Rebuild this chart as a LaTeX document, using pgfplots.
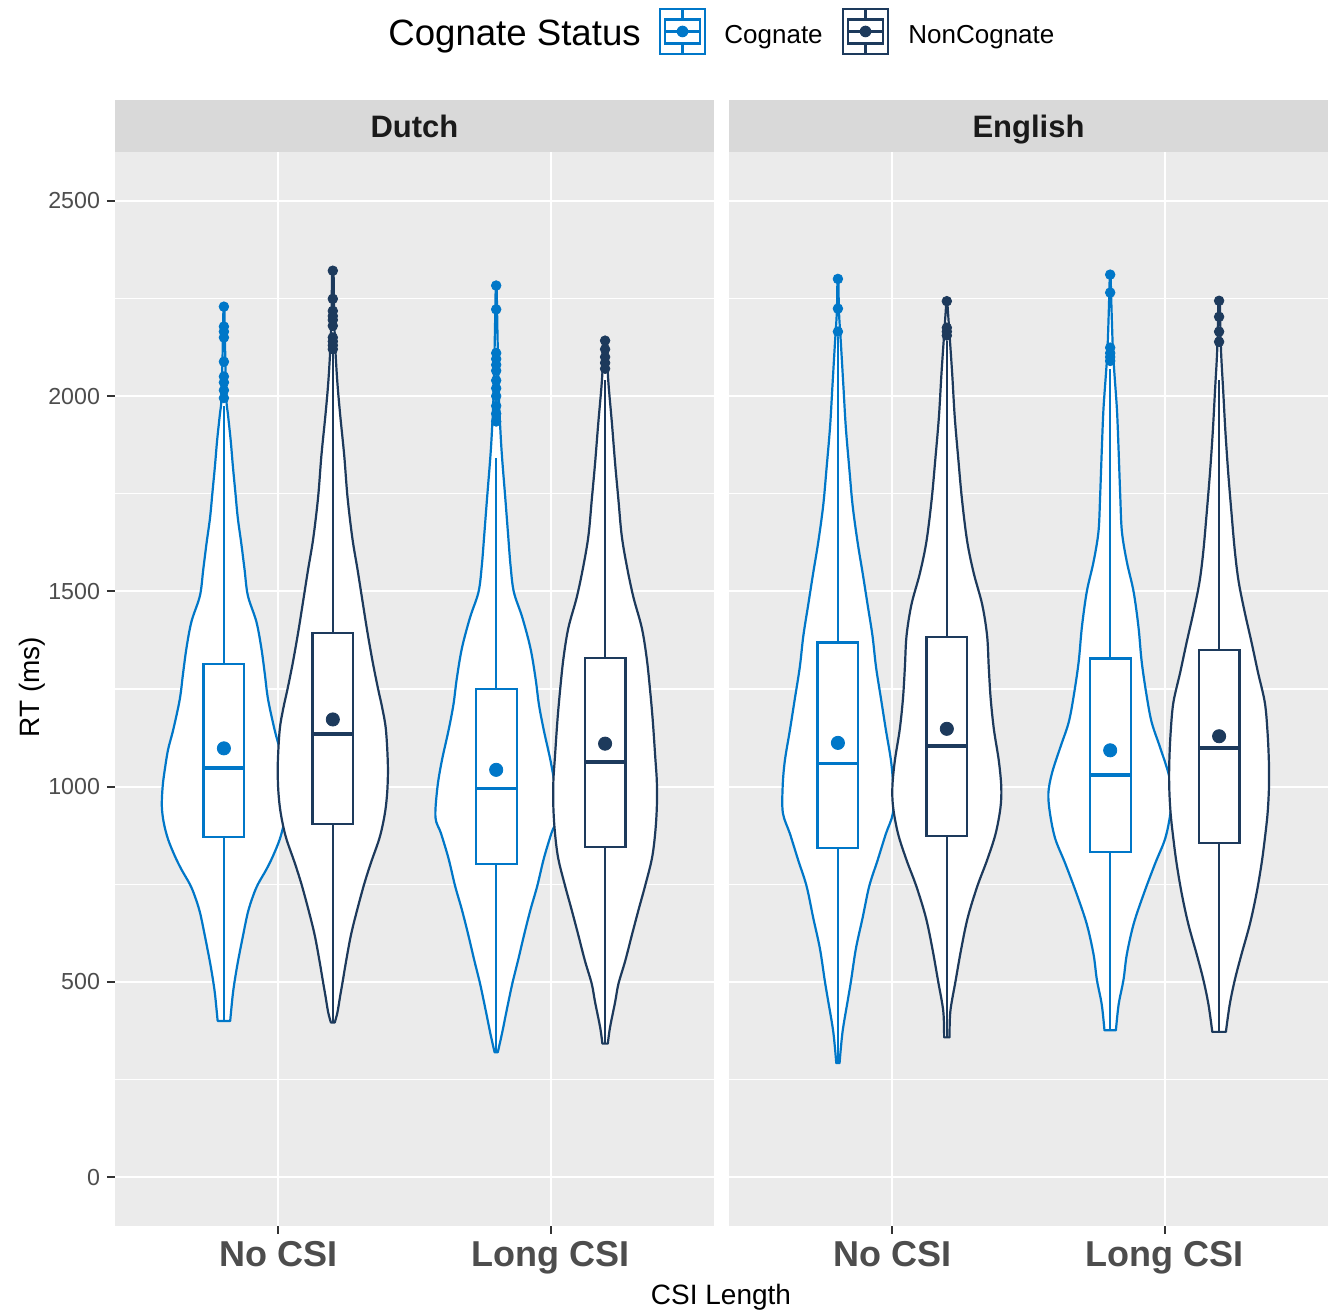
\documentclass[border=0pt]{standalone}
\usepackage{pgfplots}
\pgfplotsset{compat=1.18}
\usepackage{pgfplotstable}
\usepackage{fontspec}
\setmainfont{Liberation Sans}
\definecolor{cog}{RGB}{0,119,200}
\definecolor{ncog}{RGB}{29,58,92}
\definecolor{panelbg}{HTML}{EBEBEB}
\definecolor{stripbg}{HTML}{D9D9D9}
\definecolor{tickcol}{HTML}{4D4D4D}
\definecolor{tickline}{HTML}{333333}
\definecolor{striptext}{HTML}{1A1A1A}

% violin outlines: y = RT (ms), w = half width (axis units)
\pgfplotstableread{
y w
400 0.023
464 0.032
500 0.039
550 0.051
618 0.070
678 0.088
720 0.107
750 0.125
788 0.156
822 0.180
865 0.205
908 0.221
950 0.228
1000 0.225
1044 0.217
1095 0.205
1146 0.186
1224 0.162
1290 0.150
1357 0.137
1423 0.119
1489 0.088
1555 0.076
1622 0.064
1688 0.051
1754 0.042
1820 0.033
1886 0.025
1952 0.015
1992 0.009
2100 0.005
2214 0.002
2229 0.001
}\dcno
\pgfplotstableread{
y w
396 0.007
422 0.017
464 0.027
500 0.036
550 0.048
618 0.066
678 0.087
750 0.115
805 0.140
865 0.170
908 0.185
950 0.195
1000 0.201
1061 0.202
1146 0.195
1200 0.182
1251 0.166
1317 0.147
1396 0.127
1475 0.109
1555 0.091
1635 0.072
1741 0.054
1847 0.042
1952 0.027
2032 0.017
2111 0.010
2200 0.005
2306 0.003
2321 0.002
}\dnno
\pgfplotstableread{
y w
320 0.006
370 0.022
422 0.037
495 0.059
554 0.080
619 0.102
685 0.126
746 0.151
816 0.175
881 0.203
921 0.223
997 0.216
1065 0.200
1144 0.175
1210 0.157
1275 0.145
1354 0.126
1433 0.096
1498 0.065
1564 0.053
1643 0.044
1734 0.034
1839 0.022
1905 0.016
1997 0.010
2150 0.005
2268 0.002
2283 0.001
}\dclong
\pgfplotstableread{
y w
342 0.010
383 0.018
449 0.037
495 0.049
554 0.074
619 0.098
685 0.123
746 0.147
816 0.172
881 0.184
947 0.190
1013 0.190
1078 0.184
1170 0.175
1249 0.165
1328 0.153
1406 0.135
1485 0.104
1564 0.080
1643 0.061
1734 0.049
1826 0.037
1931 0.025
2036 0.012
2115 0.006
2127 0.003
2142 0.002
}\dnlong
\pgfplotstableread{
y w
292 0.006
372 0.017
452 0.036
502 0.048
585 0.066
665 0.091
745 0.115
812 0.146
879 0.176
932 0.202
999 0.203
1066 0.195
1146 0.176
1226 0.158
1306 0.140
1386 0.127
1466 0.109
1546 0.091
1627 0.072
1720 0.054
1813 0.042
1920 0.029
2027 0.020
2134 0.011
2214 0.004
2285 0.002
2300 0.001
}\ecno
\pgfplotstableread{
y w
358 0.010
425 0.013
502 0.032
585 0.053
665 0.077
745 0.112
812 0.148
879 0.179
946 0.197
999 0.200
1066 0.191
1146 0.173
1226 0.161
1306 0.154
1386 0.148
1466 0.130
1546 0.099
1627 0.075
1733 0.056
1840 0.042
1947 0.029
2054 0.020
2147 0.011
2228 0.003
2243 0.002
}\enno
\pgfplotstableread{
y w
376 0.021
442 0.031
506 0.049
570 0.061
648 0.086
725 0.123
803 0.165
867 0.202
931 0.221
983 0.227
1034 0.214
1099 0.184
1163 0.153
1228 0.135
1318 0.116
1408 0.104
1499 0.086
1576 0.061
1653 0.043
1743 0.037
1859 0.031
1963 0.025
2053 0.016
2117 0.010
2220 0.005
2296 0.002
2311 0.001
}\eclong
\pgfplotstableread{
y w
372 0.025
442 0.039
506 0.058
570 0.082
648 0.113
725 0.137
803 0.156
867 0.168
931 0.178
996 0.183
1060 0.183
1138 0.178
1215 0.168
1292 0.143
1370 0.119
1447 0.094
1524 0.072
1602 0.058
1705 0.045
1808 0.033
1911 0.023
2014 0.015
2117 0.007
2231 0.003
2246 0.002
}\enlong

% build a closed outline: right side upwards, left side downwards
\newcommand{\mkloop}[2]{% table, centre
  \pgfplotstablesort[sort key=y, sort cmp={float >}]{\tmprev}{#1}%
  \pgfplotstablecreatecol[create col/expr={#2+\thisrow{w}}]{x}{#1}%
  \pgfplotstablecreatecol[create col/expr={#2-\thisrow{w}}]{x}{\tmprev}%
  \pgfplotstablevertcat{#1}{\tmprev}%
}
\mkloop{\dcno}{0.8}
\mkloop{\dnno}{1.2}
\mkloop{\dclong}{1.8}
\mkloop{\dnlong}{2.2}
\mkloop{\ecno}{0.8}
\mkloop{\enno}{1.2}
\mkloop{\eclong}{1.8}
\mkloop{\enlong}{2.2}

\newcommand{\violin}[2]{% colour, table
  \addplot[draw=#1, fill=white, line width=1.1pt, line join=round, smooth, tension=0.55] table[x=x, y=y] {#2} -- cycle;
}
\newcommand{\bxp}[9]{% pos, colour, lw, q1, med, q3, uw, left, right
  \addplot[draw=#2, line width=1.1pt] coordinates {(#1,#3) (#1,#4)};
  \addplot[draw=#2, line width=1.1pt] coordinates {(#1,#6) (#1,#7)};
  \addplot[draw=#2, fill=white, line width=1.1pt] coordinates {(#8,#4) (#9,#4) (#9,#6) (#8,#6)} -- cycle;
  \addplot[draw=#2, line width=1.9pt] coordinates {(#8,#5) (#9,#5)};
}

\pgfplotsset{panel/.style={
  scale only axis, width=299.5pt, height=537pt,
  xmin=0.4, xmax=2.6, ymin=-125, ymax=2625,
  axis background/.style={fill=panelbg},
  axis line style={draw=none},
  xtick={1,2}, xticklabels={No CSI, Long CSI},
  ytick={0,500,1000,1500,2000,2500},
  minor ytick={250,750,1250,1750,2250},
  grid=both,
  major grid style={draw=white, line width=1.1pt},
  minor grid style={draw=white, line width=0.55pt},
  tick align=outside, major tick length=4pt, minor tick length=0pt,
  tick pos=left,
  tick style={draw=tickline, line width=1pt},
  xticklabel style={font=\fontsize{18}{20}\selectfont\bfseries, text=tickcol},
  yticklabel style={font=\fontsize{11.6}{13}\selectfont, text=tickcol},
  /pgf/number format/assume math mode=true,
}}

\begin{document}
\begin{tikzpicture}
\path[use as bounding box] (-57.5pt,-42pt) rectangle (608.5pt,613pt);

% ---------------- Dutch ----------------
\begin{axis}[panel, at={(0pt,0pt)}, anchor=south west,
  yticklabels={0,500,1000,1500,2000,2500}]
\violin{cog}{\dcno}
\violin{ncog}{\dnno}
\violin{cog}{\dclong}
\violin{ncog}{\dnlong}
\bxp{0.8}{cog}{398}{870}{1047}{1313}{1975}{0.725}{0.875}
\bxp{1.2}{ncog}{395}{904}{1134}{1393}{2115}{1.125}{1.275}
\bxp{1.8}{cog}{320}{801}{995}{1250}{1842}{1.725}{1.875}
\bxp{2.2}{ncog}{342}{846}{1063}{1330}{2042}{2.125}{2.275}
\addplot[only marks, mark=*, mark size=2.4pt, color=cog] coordinates {(0.8,1995) (0.8,2015) (0.8,2035) (0.8,2050) (0.8,2088) (0.8,2150) (0.8,2165) (0.8,2178) (0.8,2229)};
\addplot[only marks, mark=*, mark size=2.4pt, color=ncog] coordinates {(1.2,2120) (1.2,2130) (1.2,2140) (1.2,2150) (1.2,2180) (1.2,2195) (1.2,2205) (1.2,2218) (1.2,2249) (1.2,2321)};
\addplot[only marks, mark=*, mark size=2.4pt, color=cog] coordinates {(1.8,1935) (1.8,1955) (1.8,1975) (1.8,2000) (1.8,2020) (1.8,2040) (1.8,2065) (1.8,2080) (1.8,2095) (1.8,2110) (1.8,2222) (1.8,2283)};
\addplot[only marks, mark=*, mark size=2.4pt, color=ncog] coordinates {(2.2,2070) (2.2,2085) (2.2,2100) (2.2,2120) (2.2,2142)};
\addplot[only marks, mark=*, mark size=3.3pt, color=cog] coordinates {(0.8,1098) (1.8,1043)};
\addplot[only marks, mark=*, mark size=3.3pt, color=ncog] coordinates {(1.2,1172) (2.2,1110)};
\end{axis}

% ---------------- English ----------------
\begin{axis}[panel, at={(307pt,0pt)}, anchor=south west,
  yticklabels={}, ytick style={draw=none}]
\violin{cog}{\ecno}
\violin{ncog}{\enno}
\violin{cog}{\eclong}
\violin{ncog}{\enlong}
\bxp{0.8}{cog}{292}{843}{1059}{1369}{2150}{0.725}{0.875}
\bxp{1.2}{ncog}{358}{873}{1104}{1384}{2140}{1.125}{1.275}
\bxp{1.8}{cog}{376}{832}{1030}{1328}{2070}{1.725}{1.875}
\bxp{2.2}{ncog}{372}{855}{1098}{1350}{2042}{2.125}{2.275}
\addplot[only marks, mark=*, mark size=2.4pt, color=cog] coordinates {(0.8,2165) (0.8,2224) (0.8,2300)};
\addplot[only marks, mark=*, mark size=2.4pt, color=ncog] coordinates {(1.2,2155) (1.2,2165) (1.2,2175) (1.2,2243)};
\addplot[only marks, mark=*, mark size=2.4pt, color=cog] coordinates {(1.8,2090) (1.8,2100) (1.8,2110) (1.8,2124) (1.8,2265) (1.8,2311)};
\addplot[only marks, mark=*, mark size=2.4pt, color=ncog] coordinates {(2.2,2139) (2.2,2165) (2.2,2203) (2.2,2244)};
\addplot[only marks, mark=*, mark size=3.3pt, color=cog] coordinates {(0.8,1112) (1.8,1093)};
\addplot[only marks, mark=*, mark size=3.3pt, color=ncog] coordinates {(1.2,1148) (2.2,1129)};
\end{axis}

\begin{scope}[x=1pt, y=1pt]
% strips
\fill[stripbg] (0,537) rectangle (299.5,563);
\fill[stripbg] (307,537) rectangle (606.5,563);
\node[anchor=base, inner sep=0, text=striptext, font=\fontsize{15.5}{17}\selectfont\bfseries] at (149.75,544.4) {Dutch};
\node[anchor=base, inner sep=0, text=striptext, font=\fontsize{15.5}{17}\selectfont\bfseries] at (456.75,544.4) {English};

% axis titles
\node[anchor=base, inner sep=0, font=\fontsize{14}{16}\selectfont] at (303,-39.5) {CSI Length};
\node[anchor=base, inner sep=0, rotate=90, font=\fontsize{14}{16}\selectfont] at (-37.5,269.5) {RT (ms)};

% legend
\node[anchor=base west, inner sep=0, font=\fontsize{18.3}{20}\selectfont] at (136.5,590) {Cognate Status};
\foreach \cx/\cc in {283.75/cog, 375.25/ncog}{
  \begin{scope}[shift={(\cx,597.25)}, line width=1.1pt]
    \draw[\cc, fill=white] (-11.25,-11.25) rectangle (11.25,11.25);
    \draw[\cc] (-8.75,-6) rectangle (8.75,6);
    \draw[\cc] (0,6) -- (0,11.25) (0,-6) -- (0,-11.25);
    \draw[\cc] (-8.75,0) -- (8.75,0);
    \fill[\cc] (0,0) circle (2.9);
  \end{scope}
}
\node[anchor=base west, inner sep=0, font=\fontsize{13}{15}\selectfont] at (304.5,591.2) {Cognate};
\node[anchor=base west, inner sep=0, font=\fontsize{13}{15}\selectfont] at (396.5,591.2) {NonCognate};
\end{scope}
\end{tikzpicture}
\end{document}
